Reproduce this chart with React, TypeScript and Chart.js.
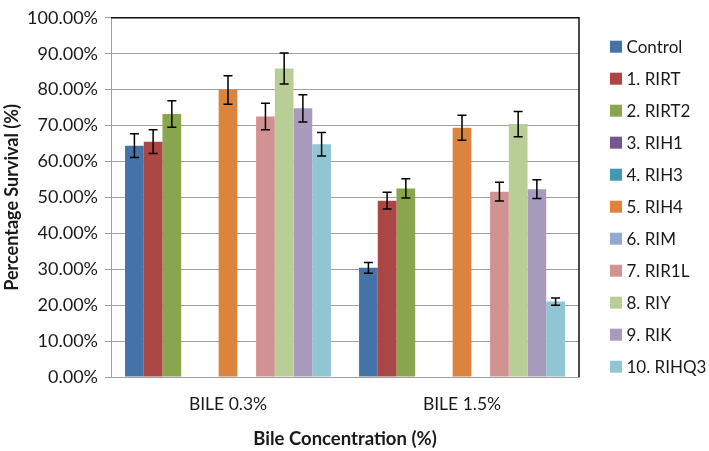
import React, { useEffect, useRef } from 'react';
import { Chart, registerables } from 'chart.js';

Chart.register(...registerables);

const categories = ['BILE 0.3%', 'BILE 1.5%'];

const seriesNames = ['Control', '1. RIRT', '2. RIRT2', '3. RIH1', '4. RIH3', '5. RIH4', '6. RIM', '7. RIR1L', '8. RIY', '9. RIK', '10. RIHQ3'];
const seriesColors = ['#4572A7', '#AA4643', '#89A54E', '#71588F', '#4198AF', '#DB843D', '#93A9CF', '#D19392', '#B9CD96', '#A99BBD', '#92C5D4'];

// values in percent, per category
const controlVals = [64.4, 30.4];
const rirtVals = [65.5, 49.1];
const rirt2Vals = [73.2, 52.5];
const rih1Vals = [null, null];
const rih3Vals = [null, null];
const rih4Vals = [79.9, 69.4];
const rimVals = [null, null];
const rir1lVals = [72.5, 51.6];
const riyVals = [85.9, 70.4];
const rikVals = [74.8, 52.3];
const rihq3Vals = [64.8, 21.0];

// error bar half-widths in percent
const controlErr = [3.3, 1.5];
const rirtErr = [3.3, 2.3];
const rirt2Err = [3.7, 2.7];
const rih1Err = [0, 0];
const rih3Err = [0, 0];
const rih4Err = [4.0, 3.5];
const rimErr = [0, 0];
const rir1lErr = [3.7, 2.6];
const riyErr = [4.3, 3.5];
const rikErr = [3.8, 2.6];
const rihq3Err = [3.3, 1.0];

const yTickValues = [0, 10, 20, 30, 40, 50, 60, 70, 80, 90, 100];

const allValues = [controlVals, rirtVals, rirt2Vals, rih1Vals, rih3Vals, rih4Vals, rimVals, rir1lVals, riyVals, rikVals, rihq3Vals];
const allErrors = [controlErr, rirtErr, rirt2Err, rih1Err, rih3Err, rih4Err, rimErr, rir1lErr, riyErr, rikErr, rihq3Err];

const FONT = 'Lato, "Liberation Sans", sans-serif';
const TEXT = '#1a1a1a';
const GRID = '#a0a0a0';

const errorBarPlugin = {
  id: 'errorBars',
  afterDatasetsDraw(chart: any) {
    const ctx = chart.ctx;
    const y = chart.scales.y;
    chart.data.datasets.forEach((ds: any, i: number) => {
      const meta = chart.getDatasetMeta(i);
      const errs = allErrors[i];
      meta.data.forEach((el: any, j: number) => {
        const v = ds.data[j];
        if (v == null) return;
        const e = errs[j];
        const top = y.getPixelForValue(v + e);
        const bot = y.getPixelForValue(v - e);
        const cap = 4.5;
        ctx.save();
        ctx.strokeStyle = '#000';
        ctx.lineWidth = 1.5;
        ctx.beginPath();
        ctx.moveTo(el.x, top);
        ctx.lineTo(el.x, bot);
        ctx.moveTo(el.x - cap, top);
        ctx.lineTo(el.x + cap, top);
        ctx.moveTo(el.x - cap, bot);
        ctx.lineTo(el.x + cap, bot);
        ctx.stroke();
        ctx.restore();
      });
    });
  },
};

const frameAndLegendPlugin = {
  id: 'frameAndLegend',
  afterDraw(chart: any) {
    const ctx = chart.ctx;
    const a = chart.chartArea;
    ctx.save();
    ctx.strokeStyle = '#111';
    ctx.lineWidth = 1.5;
    ctx.beginPath();
    ctx.moveTo(a.left, a.top);
    ctx.lineTo(a.right, a.top);
    ctx.lineTo(a.right, a.bottom);
    ctx.stroke();
    ctx.restore();

    // legend
    ctx.save();
    ctx.font = '17px ' + FONT;
    ctx.textBaseline = 'middle';
    ctx.textAlign = 'left';
    const x0 = a.right + 31;
    const y0 = 46.7;
    const step = 32;
    chart.data.datasets.forEach((ds: any, i: number) => {
      const cy = y0 + step * i;
      ctx.fillStyle = ds.backgroundColor;
      ctx.fillRect(x0, cy - 6, 12, 12);
      ctx.fillStyle = TEXT;
      ctx.fillText(ds.label, x0 + 16.5, cy + 1);
    });
    ctx.restore();
  },
};

export default function App() {
  const ref = useRef<HTMLCanvasElement | null>(null);

  useEffect(() => {
    if (!ref.current) return;
    const chart = new Chart(ref.current, {
      type: 'bar',
      data: {
        labels: categories,
        datasets: seriesNames.map((name, i) => ({
          label: name,
          data: allValues[i],
          backgroundColor: seriesColors[i],
          borderWidth: 0,
          categoryPercentage: 11 / 12.5,
          barPercentage: 1,
        })),
      },
      options: {
        animation: false,
        responsive: false,
        devicePixelRatio: 1,
        layout: { padding: { top: 10, right: 130, left: 0, bottom: 0 } },
        plugins: {
          legend: { display: false },
          tooltip: { enabled: false },
        },
        scales: {
          x: {
            grid: { display: false, drawTicks: true, tickLength: 6 },
            border: { display: true, color: GRID, width: 1 },
            ticks: { color: TEXT, font: { family: FONT, size: 17.5 }, padding: 11 },
            title: {
              display: true,
              text: 'Bile Concentration (%)',
              color: TEXT,
              font: { family: FONT, size: 18.5, weight: 'bold' },
              padding: { top: 0, bottom: 1 },
            },
            afterFit(scale: any) {
              scale.height = 74;
            },
          },
          y: {
            min: 0,
            max: 100,
            afterBuildTicks(scale: any) {
              scale.ticks = yTickValues.map((v) => ({ value: v }));
            },
            grid: { color: GRID, lineWidth: 1, drawTicks: true, tickLength: 6 },
            border: { display: true, color: GRID, width: 1 },
            ticks: {
              color: TEXT,
              font: { family: FONT, size: 18 },
              padding: 7,
              callback: (v: any) => Number(v).toFixed(2) + '%',
            },
            title: {
              display: true,
              text: 'Percentage Survival (%)',
              color: TEXT,
              font: { family: FONT, size: 18, weight: 'bold' },
              padding: { top: 1, bottom: 0 },
            },
            afterFit(scale: any) {
              scale.width = 111;
            },
          },
        },
      },
      plugins: [errorBarPlugin, frameAndLegendPlugin],
    } as any);
    return () => chart.destroy();
  }, []);

  return (
    <div style={{ position: 'fixed', left: 0, top: 0, width: 709, height: 451, background: '#fff' }}>
      <canvas ref={ref} width={709} height={451} style={{ width: 709, height: 451 }} />
    </div>
  );
}
